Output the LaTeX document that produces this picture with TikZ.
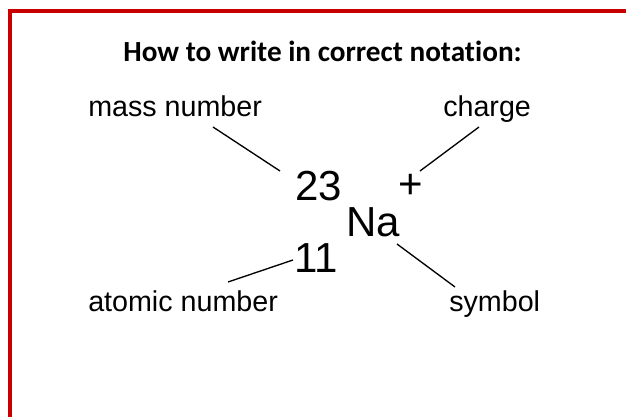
\documentclass[tikz,border=0pt]{standalone}
\usepackage{fontspec}
\setmainfont{Liberation Sans}
\newfontfamily\titlefont[Ligatures=NoCommon]{Carlito}
\usepackage{xcolor}
\usepackage{tikz}
\usetikzlibrary{positioning}
\definecolor{borderred}{RGB}{200, 0, 0}

\begin{document}
\begin{tikzpicture}[x=0.75pt, y=-0.75pt,
    label/.style={inner sep=0pt, anchor=base west, font=\fontsize{21.5}{24}\selectfont},
    symtext/.style={inner sep=0pt, anchor=base west, font=\fontsize{31.5}{34}\selectfont},
    lead/.style={line width=1pt}]
    \useasboundingbox (0,0) rectangle (626,417);
    % red frame, left and top
    \draw [borderred, line width=3pt] (10,417) -- (10,11) -- (626,11);

    \node [inner sep=0pt, anchor=base, font=\titlefont\bfseries\fontsize{21.9}{24}\selectfont] (title) at (322.5,62) {How to write in correct notation:};

    \node [label] (mass) at (88,117) {mass number};
    \node [label] (charge) at (443,117) {charge};
    \node [label] (atomic) at (88,312) {atomic number};
    \node [label] (symbol) at (449,312) {symbol};

    \node [symtext] (massnum) at (295,201) {23};
    \node [symtext, anchor=center] (plus) at (411,186) {+};
    \node [symtext] (elem) at (346,237) {Na};
    \node [symtext] (atomnum) at (294,273) {11};

    \draw [lead] ([shift={(125,10)}]mass.base west) -- ([shift={(-15,-30)}]massnum.base west);
    \draw [lead] ([shift={(36,10)}]charge.base west) -- ([shift={(9,-15)}]plus.center);
    \draw [lead] ([shift={(140,-30)}]atomic.base west) -- ([shift={(-1,-13)}]atomnum.base west);
    \draw [lead] ([shift={(6,-25)}]symbol.base west) -- ([shift={(51,7)}]elem.base west);
\end{tikzpicture}
\end{document}
